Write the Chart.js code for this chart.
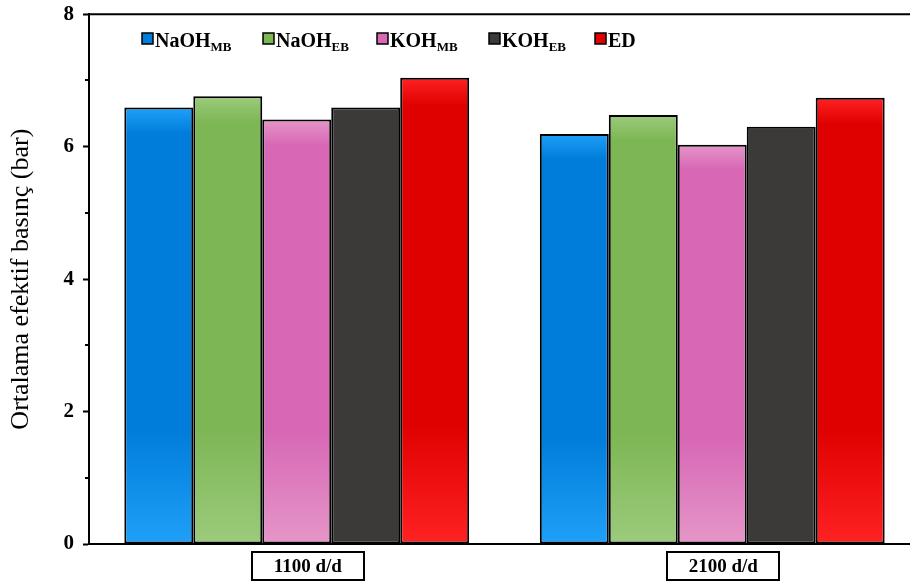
<!DOCTYPE html>
<html>
<head>
<meta charset="utf-8">
<script src="https://cdn.jsdelivr.net/npm/chart.js@4.4.1/dist/chart.umd.min.js"></script>
<style>
  html, body { margin: 0; padding: 0; background: #fff; overflow: hidden; }
  #wrap { width: 930px; height: 585px; }
</style>
</head>
<body>
<div id="wrap"><canvas id="c" width="930" height="585"></canvas></div>
<script>
// Dose categories and average effective pressure per electrolyte
const categories = ['1100 d/d', '2100 d/d'];
const seriesNames = ['NaOH', 'NaOH', 'KOH', 'KOH', 'ED'];
const seriesSubs = ['MB', 'EB', 'MB', 'EB', ''];
const naohMB = [6.59, 6.19];
const naohEB = [6.76, 6.48];
const kohMB = [6.41, 6.03];
const kohEB = [6.59, 6.30];
const ed = [7.04, 6.74];
const yTicks = [0, 2, 4, 6, 8];
const yMinorTicks = [1, 3, 5, 7];

const serif = "'Liberation Serif', 'Times New Roman', serif";

// light / dark shades for the vertical shading of each series
const shades = [
  { light: '#1fa0f8', dark: '#007dda' },
  { light: '#9ccb7c', dark: '#7db654' },
  { light: '#e596c8', dark: '#d868b6' },
  { light: '#3b3a39', dark: '#3b3a39' },
  { light: '#ff2222', dark: '#df0000' }
];

function shaded(i) {
  return function (ctx) {
    const chart = ctx.chart;
    const s = shades[i];
    if (!chart.chartArea || !chart.scales.y || ctx.raw === undefined) return s.dark;
    const y = chart.scales.y;
    const top = y.getPixelForValue(ctx.raw);
    const base = y.getPixelForValue(0);
    if (!isFinite(top) || !isFinite(base) || base - top < 1) return s.dark;
    const g = chart.ctx.createLinearGradient(0, top, 0, base);
    g.addColorStop(0, s.light);
    g.addColorStop(0.06, s.dark);
    g.addColorStop(0.74, s.dark);
    g.addColorStop(1, s.light);
    return g;
  };
}

const values = [naohMB, naohEB, kohMB, kohEB, ed];
const datasets = values.map((v, i) => ({
  label: seriesNames[i] + seriesSubs[i],
  data: v,
  backgroundColor: shaded(i),
  borderColor: '#000',
  borderWidth: 2,
  borderSkipped: false,
  categoryPercentage: 0.83,
  barPercentage: 1.0
}));

// Extra drawing: top frame line, minor y ticks, legend with subscripts, boxed category labels
const decorations = {
  id: 'decorations',
  afterDraw(chart) {
    const { ctx, chartArea } = chart;
    const y = chart.scales.y;
    const x = chart.scales.x;
    ctx.save();
    // top frame line
    ctx.strokeStyle = '#000';
    ctx.lineWidth = 2;
    ctx.beginPath();
    ctx.moveTo(chartArea.left - 1, chartArea.top);
    ctx.lineTo(chartArea.right, chartArea.top);
    ctx.stroke();
    // minor ticks
    yMinorTicks.forEach(v => {
      const py = Math.round(y.getPixelForValue(v));
      ctx.beginPath();
      ctx.moveTo(chartArea.left - 4, py);
      ctx.lineTo(chartArea.left, py);
      ctx.stroke();
    });
    // legend
    const legendX = [142, 263, 377, 489, 595];
    const sqTop = 33, sq = 11, baseLine = 47;
    chart.data.datasets.forEach((ds, i) => {
      const lx = legendX[i];
      ctx.fillStyle = shades[i].dark;
      ctx.fillRect(lx, sqTop, sq, sq);
      ctx.lineWidth = 1.5;
      ctx.strokeStyle = '#000';
      ctx.strokeRect(lx, sqTop, sq, sq);
      ctx.fillStyle = '#000';
      ctx.textAlign = 'left';
      ctx.textBaseline = 'alphabetic';
      ctx.font = 'bold 20px ' + serif;
      ctx.fillText(seriesNames[i], lx + sq + 2, baseLine);
      const w = ctx.measureText(seriesNames[i]).width;
      if (seriesSubs[i]) {
        ctx.font = 'bold 13px ' + serif;
        ctx.fillText(seriesSubs[i], lx + sq + 2 + w, baseLine + 4);
      }
    });
    // boxed category labels
    categories.forEach((c, i) => {
      const cx = x.getPixelForValue(i) + 11;
      const bw = 112, bh = 28, by = 552;
      ctx.lineWidth = 2;
      ctx.strokeStyle = '#000';
      ctx.strokeRect(Math.round(cx - bw / 2), by, bw, bh);
      ctx.fillStyle = '#000';
      ctx.font = 'bold 19px ' + serif;
      ctx.textAlign = 'center';
      ctx.textBaseline = 'middle';
      ctx.fillText(c, cx, by + bh / 2 + 1);
    });
    ctx.restore();
  }
};

new Chart(document.getElementById('c'), {
  type: 'bar',
  data: { labels: categories, datasets },
  options: {
    responsive: false,
    animation: false,
    layout: { padding: { top: 14, right: 10, left: 0, bottom: 0 } },
    plugins: { legend: { display: false }, tooltip: { enabled: false } },
    scales: {
      x: {
        grid: { display: false, drawTicks: false },
        border: { display: true, color: '#000', width: 2 },
        ticks: { display: false },
        afterFit(scale) { scale.height = 41; }
      },
      y: {
        min: 0,
        max: 8,
        afterBuildTicks(scale) { scale.ticks = yTicks.map(v => ({ value: v })); },
        grid: { drawOnChartArea: false, drawTicks: true, tickLength: 6, tickWidth: 2, tickColor: '#000' },
        border: { display: true, color: '#000', width: 2 },
        ticks: {
          color: '#000',
          padding: 9,
          font: { family: serif, size: 21, weight: 'bold', lineHeight: 0.5 }
        },
        title: {
          display: true,
          text: 'Ortalama efektif basınç (bar)',
          color: '#000',
          padding: { top: 6, bottom: 0 },
          font: { family: serif, size: 26, weight: 'normal' }
        },
        afterFit(scale) { scale.width = 89; }
      }
    }
  },
  plugins: [decorations]
});
</script>
</body>
</html>
